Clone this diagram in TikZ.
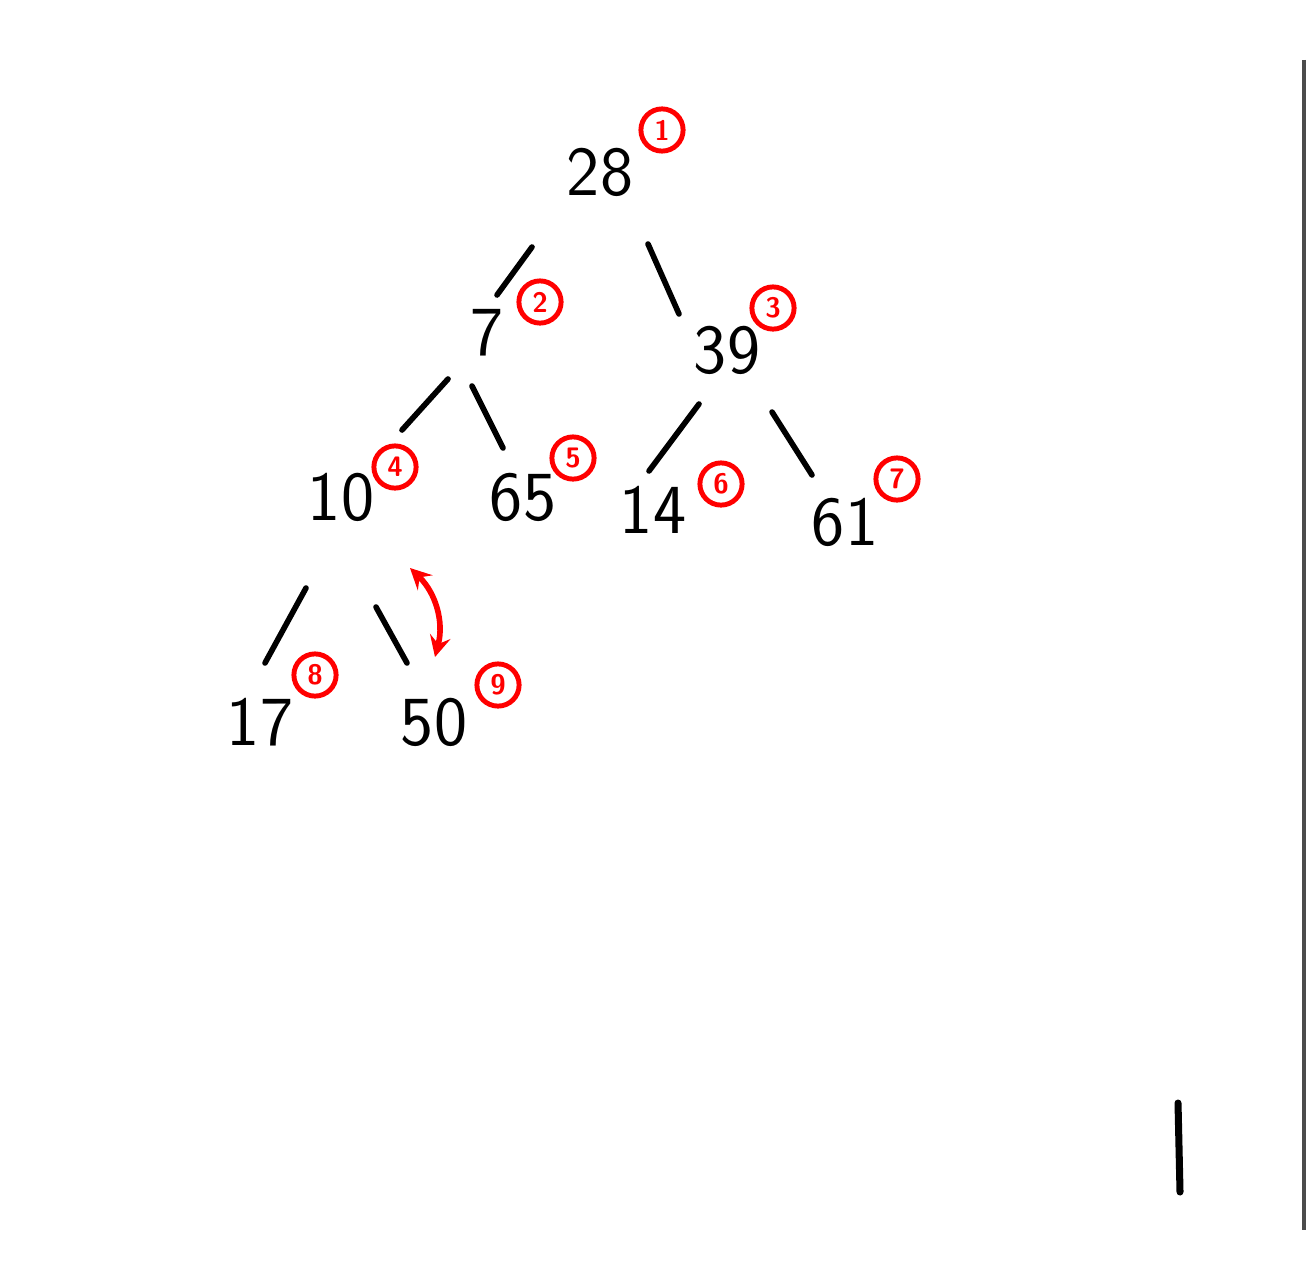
\documentclass[tikz,border=0pt]{standalone}
\usetikzlibrary{arrows,calc,positioning}

\begin{document}
\begin{tikzpicture}[x=0.01cm,y=-0.01cm,
  num/.style={font=\fontsize{20}{24}\selectfont\sffamily,inner sep=2pt},
  ord/.style={circle,draw=red,text=red,line width=1.4pt,minimum size=12pt,inner sep=0pt,font=\fontsize{8}{9}\selectfont\bfseries\sffamily},
  edge/.style={line width=1.6pt,line cap=round},
  >=stealth]
\useasboundingbox (0,0) rectangle (1307,1279);
% tree values
\node[num] (n28) at (600,172) {28};
\node[num] (n7)  at (487,333) {7};
\node[num] (n39) at (727,350) {39};
\node[num] (n10) at (341,497) {10};
\node[num] (n65) at (523,497) {65};
\node[num] (n14) at (653,510) {14};
\node[num] (n61) at (845,522) {61};
\node[num] (n17) at (260,722) {17};
\node[num] (n50) at (434,722) {50};
% red order marks
\node[ord] (c1) at (662,130) {1};
\node[ord] (c2) at (540,302) {2};
\node[ord] (c3) at (773,308) {3};
\node[ord] (c4) at (395,467) {4};
\node[ord] (c5) at (573,458) {5};
\node[ord] (c6) at (721,484) {6};
\node[ord] (c7) at (897,479) {7};
\node[ord] (c8) at (315,675) {8};
\node[ord] (c9) at (498,685) {9};
% edges
\draw[edge] ($(n28)+(-68,75)$)--($(n7)+(10,-38)$);
\draw[edge] ($(n28)+(48,72)$)--($(n39)+(-48,-36)$);
\draw[edge] ($(n7)+(-39,46)$)--($(n10)+(61,-67)$);
\draw[edge] ($(n7)+(-15,53)$)--($(n65)+(-20,-49)$);
\draw[edge] ($(n39)+(-28,54)$)--($(n14)+(-4,-39)$);
\draw[edge] ($(n39)+(45,62)$)--($(n61)+(-33,-47)$);
\draw[edge] ($(n10)+(-35,91)$)--($(n17)+(5,-59)$);
\draw[edge] ($(n10)+(35,110)$)--($(n50)+(-27,-59)$);
% swap arrow
\coordinate (s1) at (410,568);
\coordinate (s2) at (435,657);
\draw[red,line width=1.6pt,<->] (s1) to[bend left=30] (s2);
% stray marks
\coordinate (m1) at (1178,1103);
\coordinate (m2) at (1180,1192);
\draw[line width=2pt,line cap=round] (m1)--(m2);
\coordinate (e1) at (1304,60);
\coordinate (e2) at (1304,1230);
\draw[black!70,line width=1pt] (e1)--(e2);
\end{tikzpicture}
\end{document}
